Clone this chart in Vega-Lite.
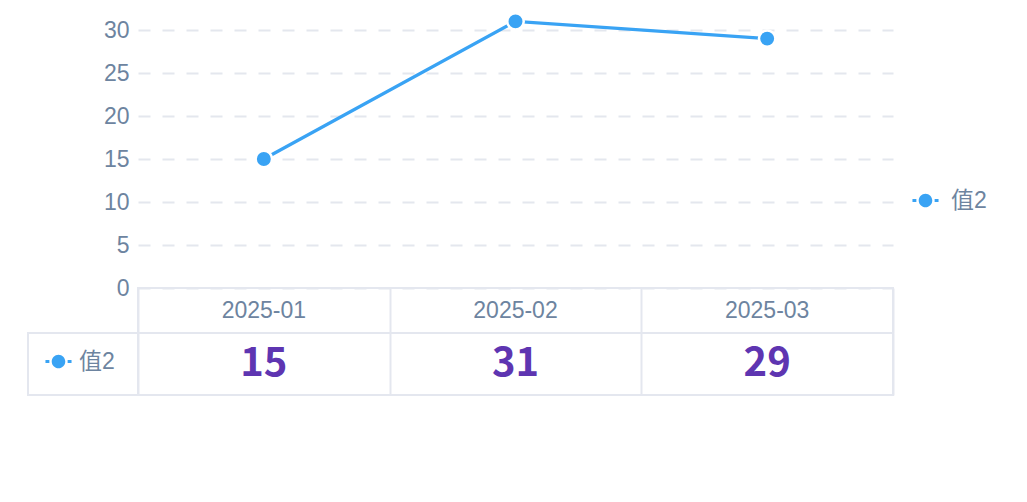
{
  "$schema": "https://vega.github.io/schema/vega-lite/v6.json",
  "background": "white",
  "padding": {"left": 27, "top": 8, "right": 5, "bottom": 5},
  "config": {
    "font": "Liberation Sans, Noto Sans CJK SC",
    "view": {"stroke": null},
    "legend": {"labelFont": "Liberation Sans, Noto Sans CJK SC"}
  },
  "datasets": {
    "main": [
      {"month": "2025-01", "series": "值2", "value": 15},
      {"month": "2025-02", "series": "值2", "value": 31},
      {"month": "2025-03", "series": "值2", "value": 29}
    ]
  },
  "columns": 2,
  "spacing": 0,
  "bounds": "flush",
  "resolve": {
    "scale": {"x": "independent", "y": "independent", "color": "independent"},
    "legend": {"color": "independent"}
  },
  "concat": [
    {"width": 110, "height": 258, "data": {"values": []}, "mark": "point"},
    {
      "width": 755,
      "height": 258,
      "data": {"name": "main"},
      "encoding": {
        "x": {"field": "month", "type": "ordinal", "scale": {"type": "point", "padding": 0.5}, "axis": null},
        "y": {
          "field": "value", "type": "quantitative",
          "scale": {"domain": [0, 30], "nice": false, "zero": true},
          "axis": {
            "values": [0, 5, 10, 15, 20, 25, 30], "title": null, "domain": false, "ticks": false,
            "labelFontSize": 23, "labelColor": "#6d84a0", "labelPadding": 9, "labelFont": "Liberation Sans, Noto Sans CJK SC",
            "grid": true, "gridColor": "#e4e7ee", "gridDash": [12, 12], "gridWidth": 2
          }
        },
        "color": {
          "field": "series", "type": "nominal",
          "scale": {"range": ["#39a3f4"]},
          "legend": {
            "title": null, "orient": "none", "legendX": 774, "legendY": 157, "padding": 0,
            "symbolType": "M-1,-0.12H-0.7V0.12H-1Z M0.7,-0.12H1V0.12H0.7Z M0.52,0A0.52,0.52,0,1,1,-0.52,0A0.52,0.52,0,1,1,0.52,0Z",
            "symbolSize": 680, "labelFontSize": 23, "labelColor": "#6d84a0", "labelOffset": 12,
            "encode": {"symbols": {"update": {"fill": {"value": "#39a3f4"}, "stroke": {"value": "transparent"}, "strokeWidth": {"value": 0}, "opacity": {"value": 1}}}}
          }
        }
      },
      "layer": [
        {"mark": {"type": "line", "strokeWidth": 3.2}},
        {"mark": {"type": "point", "filled": true, "size": 270, "stroke": "white", "strokeWidth": 2.5, "opacity": 1}}
      ]
    },
    {"width": 110, "height": 45, "data": {"values": []}, "mark": "point"},
    {
      "width": 755,
      "height": 45,
      "data": {"name": "main"},
      "view": {"stroke": "#e4e7ef", "strokeWidth": 2},
      "mark": {"type": "text", "fontSize": 23, "color": "#6d84a0"},
      "encoding": {
        "x": {
          "field": "month", "type": "ordinal",
          "scale": {"type": "band", "paddingInner": 0, "paddingOuter": 0},
          "axis": {"title": null, "labels": false, "ticks": false, "domain": false, "grid": true, "gridColor": "#e4e7ef", "gridWidth": 2, "gridDash": [], "tickBand": "extent"}
        },
        "text": {"field": "month"}
      }
    },
    {
      "width": 110,
      "height": 62,
      "data": {"name": "main"},
      "view": {"stroke": "#e4e7ef", "strokeWidth": 2},
      "mark": {"type": "point", "filled": true, "opacity": 0},
      "encoding": {
        "color": {
          "field": "series", "type": "nominal",
          "scale": {"range": ["#39a3f4"]},
          "legend": {
            "title": null, "orient": "none", "legendX": 17, "legendY": 15, "padding": 0,
            "symbolType": "M-1,-0.12H-0.7V0.12H-1Z M0.7,-0.12H1V0.12H0.7Z M0.52,0A0.52,0.52,0,1,1,-0.52,0A0.52,0.52,0,1,1,0.52,0Z",
            "symbolSize": 680, "labelFontSize": 23, "labelColor": "#6d84a0", "labelOffset": 7,
            "encode": {"symbols": {"update": {"fill": {"value": "#39a3f4"}, "stroke": {"value": "transparent"}, "strokeWidth": {"value": 0}, "opacity": {"value": 1}}}}
          }
        }
      }
    },
    {
      "width": 755,
      "height": 62,
      "data": {"name": "main"},
      "view": {"stroke": "#e4e7ef", "strokeWidth": 2},
      "mark": {"type": "text", "fontSize": 40, "fontWeight": "bold", "color": "#5e35b1", "font": "Noto Sans CJK SC"},
      "encoding": {
        "x": {
          "field": "month", "type": "ordinal",
          "scale": {"type": "band", "paddingInner": 0, "paddingOuter": 0},
          "axis": {"title": null, "labels": false, "ticks": false, "domain": false, "grid": true, "gridColor": "#e4e7ef", "gridWidth": 2, "gridDash": [], "tickBand": "extent"}
        },
        "text": {"field": "value"}
      }
    }
  ]
}
